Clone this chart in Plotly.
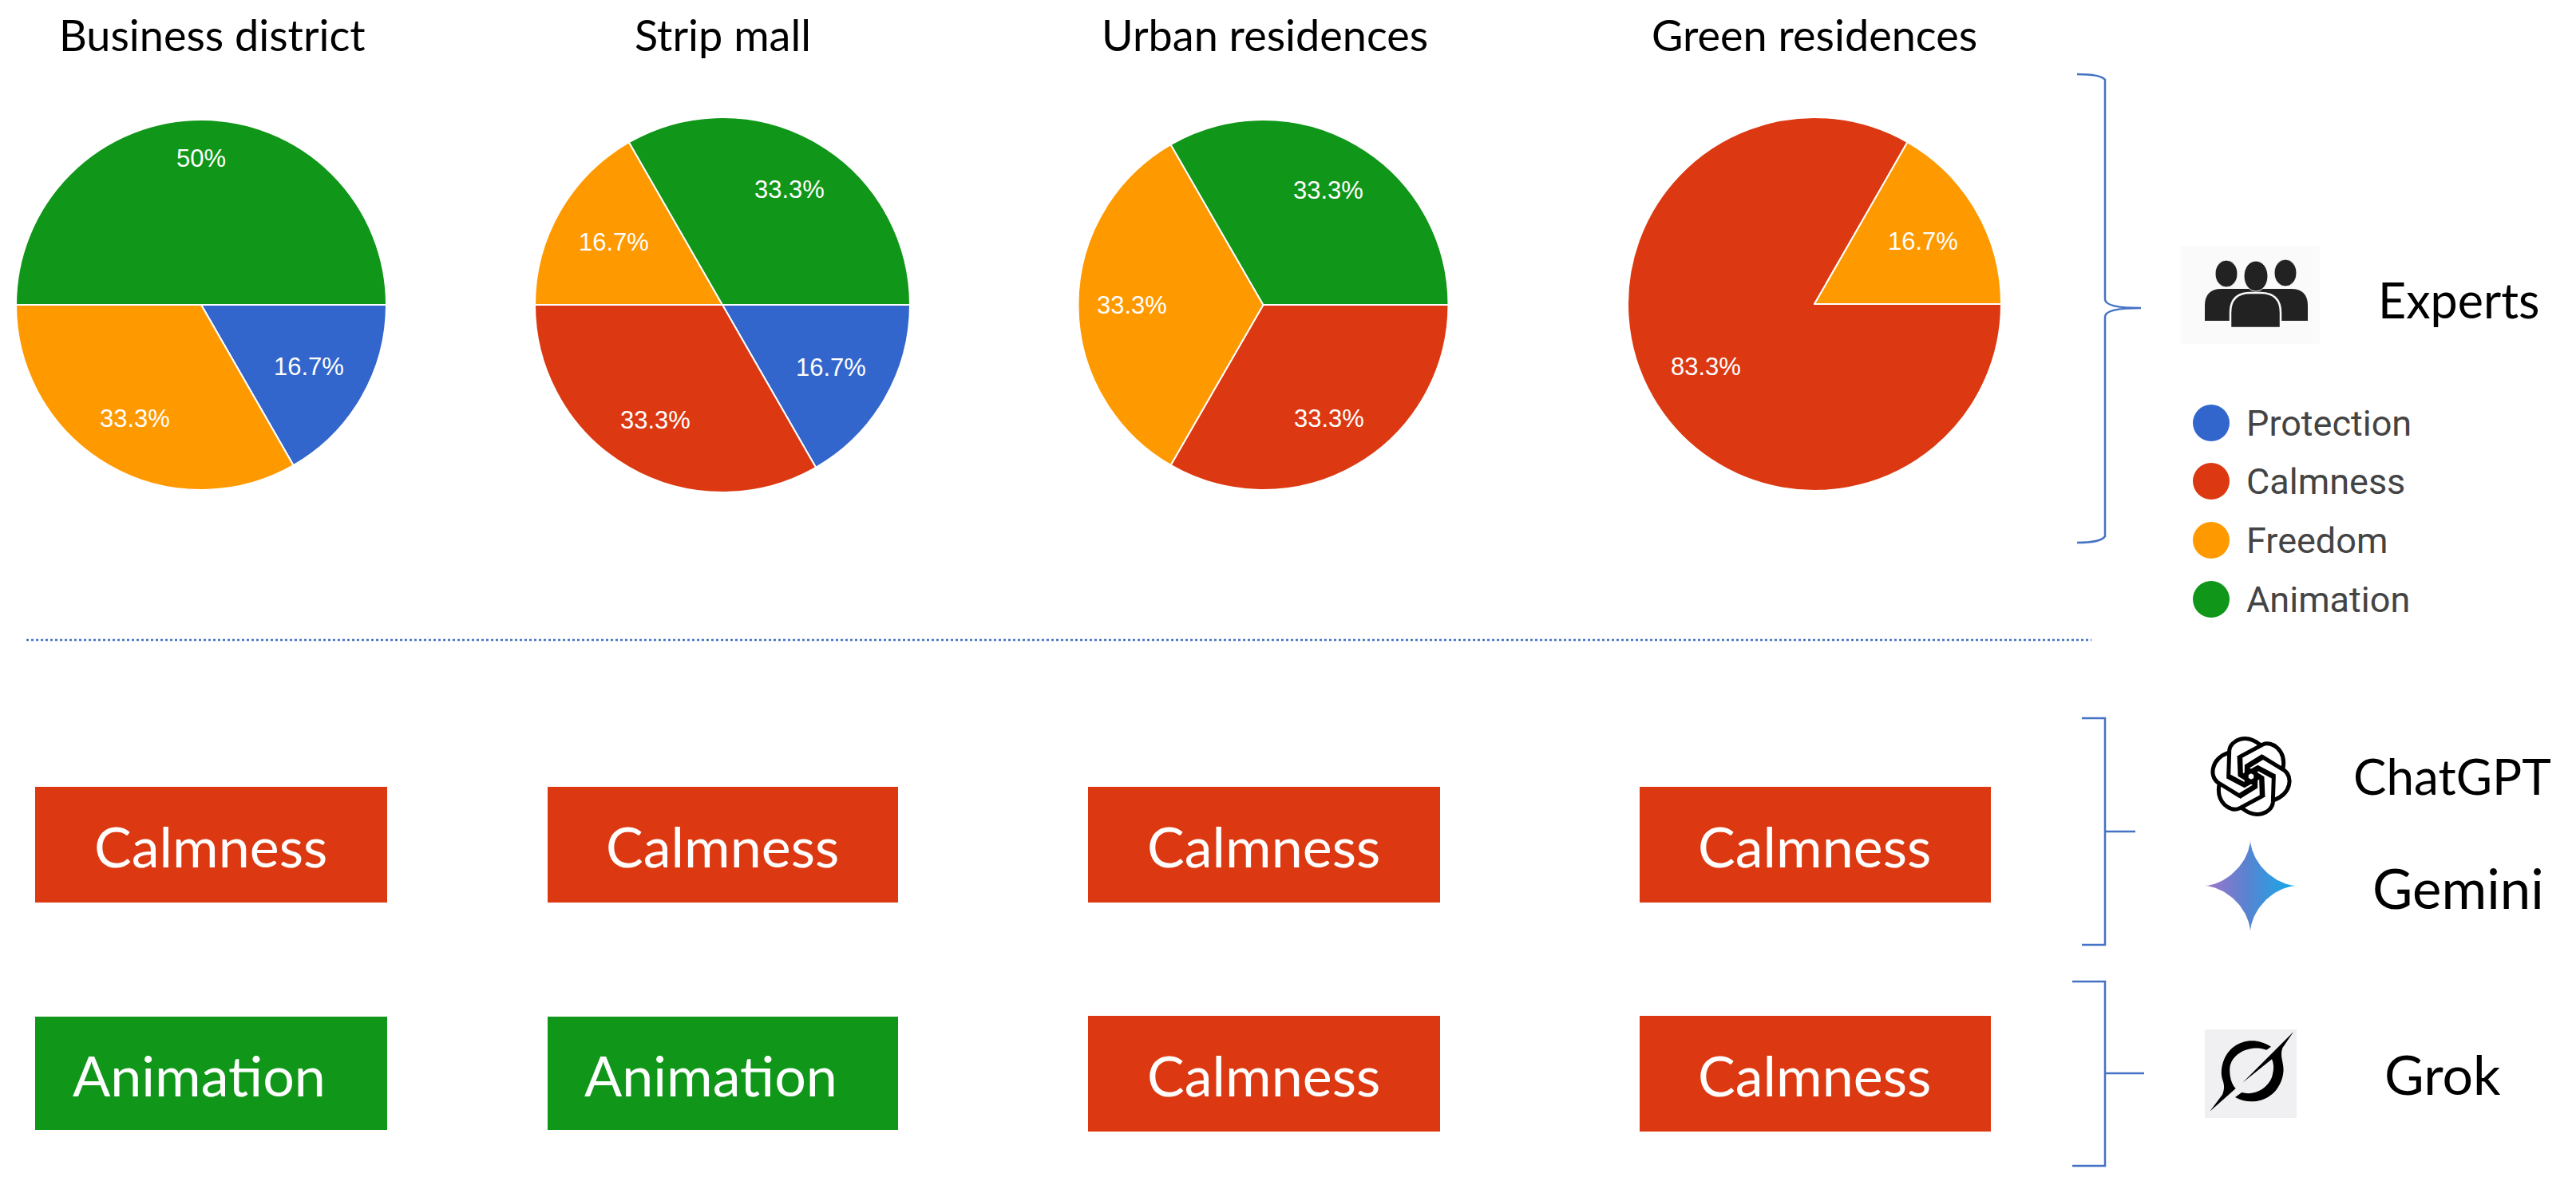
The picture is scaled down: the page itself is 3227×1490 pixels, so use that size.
import numpy as np
import plotly.graph_objects as go

W, H = 3227, 1490

# ---- data ----
scenes = ["Business district", "Strip mall", "Urban residences", "Green residences"]
emotions = ["Protection", "Calmness", "Freedom", "Animation"]
business_district = [16.7, 0, 33.3, 50]
strip_mall = [16.7, 33.3, 16.7, 33.3]
urban_residences = [0, 33.3, 33.3, 33.3]
green_residences = [0, 83.3, 16.7, 0]
chatgpt_gemini_choice = ["Calmness", "Calmness", "Calmness", "Calmness"]
grok_choice = ["Animation", "Animation", "Calmness", "Calmness"]
model_names = ["ChatGPT", "Gemini", "Grok"]

# ---- styles and layout (pixels of the 3227x1490 canvas) ----
colors = dict(zip(emotions, ["#3366CC", "#DC3912", "#FF9900", "#109618"]))
BLUE = "#4472C4"
TITLE_FONT = "Lato"
PIE_FONT = "Liberation Sans"
pie_cx = [252, 905, 1582.5, 2273]
pie_cy = [382, 382, 382, 381]
pie_r = [232, 235, 232, 234]
title_cx = [266, 905, 1584, 2273]
label_radius = {16.7: 0.67, 33.3: 0.71, 50: 0.79, 83.3: 0.67}
box_x = [(44, 485), (686, 1125), (1363, 1804), (2054, 2494)]
box_row1 = (986, 1131)
box_row2 = [(1274, 1416), (1274, 1416), (1273, 1418), (1273, 1418)]
anim_cx = [249, 890]

fig = go.Figure()
series = [business_district, strip_mall, urban_residences, green_residences]
annotations = []
shapes = []


def note(x, y, text, size, color="black", font=TITLE_FONT, anchor="center"):
    annotations.append(dict(x=x, y=y, xref="x", yref="y", text=text, showarrow=False,
                            xanchor=anchor, yanchor="middle",
                            font=dict(family=font, size=size, color=color)))


# ---- pies ----
for name, vals, cx, cy, r, tx in zip(scenes, series, pie_cx, pie_cy, pie_r, title_cx):
    fig.add_trace(go.Pie(
        labels=emotions, values=vals, sort=False, direction="clockwise", rotation=90,
        textinfo="none", hoverinfo="label+percent", showlegend=False,
        marker=dict(colors=[colors[e] for e in emotions], line=dict(color="white", width=2)),
        domain=dict(x=[(cx - r) / W, (cx + r) / W], y=[1 - (cy + r) / H, 1 - (cy - r) / H]),
        name=name))
    note(tx, 43, name, 54)
    start = 0.0
    for v in vals:
        if v > 0:
            mid = np.deg2rad((start + v / 2) * 3.6)
            k = label_radius[v] * r
            note(cx + k * np.cos(mid), cy + k * np.sin(mid), f"{v:g}%", 31, "white", PIE_FONT)
        start += v

# ---- separator ----
shapes.append(dict(type="line", x0=33, x1=2620, y0=802, y1=802,
                   line=dict(color=BLUE, width=2.5, dash="dot")))

# ---- model choice boxes ----
for i, (xr, choice) in enumerate(zip(box_x, chatgpt_gemini_choice)):
    shapes.append(dict(type="rect", x0=xr[0], x1=xr[1], y0=box_row1[0], y1=box_row1[1],
                       fillcolor=colors[choice], line=dict(width=0)))
    note(sum(xr) / 2 - 1, 1060, choice, 70, "white")
for i, (xr, yr, choice) in enumerate(zip(box_x, box_row2, grok_choice)):
    shapes.append(dict(type="rect", x0=xr[0], x1=xr[1], y0=yr[0], y1=yr[1],
                       fillcolor=colors[choice], line=dict(width=0)))
    tx = anim_cx[i] if choice == "Animation" else sum(xr) / 2 - 1
    note(tx, 1347, choice, 70, "white")

# ---- braces ----
bl = dict(color=BLUE, width=2.5)
shapes.append(dict(type="path", line=bl,
                   path="M2602,93 Q2632,93 2637,100 L2637,375 Q2637,386 2682,386 "
                        "Q2637,386 2637,397 L2637,672 Q2632,680 2602,680"))
shapes.append(dict(type="path", line=bl, path="M2608,900 L2637,900 L2637,1184 L2608,1184"))
shapes.append(dict(type="line", x0=2637, x1=2675, y0=1042, y1=1042, line=bl))
shapes.append(dict(type="path", line=bl, path="M2596,1230 L2637,1230 L2637,1461 L2596,1461"))
shapes.append(dict(type="line", x0=2637, x1=2686, y0=1345, y1=1345, line=bl))

# ---- experts icon ----
shapes.append(dict(type="rect", x0=2732, x1=2906, y0=308, y1=431, fillcolor="#FAFAFA", line=dict(width=0)))
ICON = "#222222"
shapes.append(dict(type="path", fillcolor=ICON, line=dict(width=0),
                   path="M2762,402 L2762,383 Q2762,362 2783,362 L2870,362 Q2891,362 2891,383 L2891,402 Z"))
shapes.append(dict(type="circle", x0=2775, x1=2803, y0=326, y1=360, fillcolor=ICON, line=dict(color="#FAFAFA", width=1)))
shapes.append(dict(type="circle", x0=2849, x1=2877, y0=325, y1=359, fillcolor=ICON, line=dict(color="#FAFAFA", width=1)))
shapes.append(dict(type="path", fillcolor=ICON, line=dict(color="#FAFAFA", width=2.5),
                   path="M2794,411 L2794,392 Q2794,367 2819,367 L2832,367 Q2857,367 2857,392 L2857,411 Z"))
shapes.append(dict(type="circle", x0=2811, x1=2841, y0=327, y1=365, fillcolor=ICON, line=dict(color="#FAFAFA", width=1)))
note(3080, 375, "Experts", 61)

# ---- legend ----
legend_y = [530, 603, 677, 751]
fig.add_trace(go.Scatter(x=[2770] * 4, y=legend_y, mode="markers", showlegend=False, hoverinfo="skip",
                         marker=dict(size=46, color=[colors[e] for e in emotions], line=dict(width=0))))
for e, y in zip(emotions, legend_y):
    note(2812, y, e, 45, "#444444", "Roboto", "left")


# ---- ChatGPT knot ----
def rot(px, py, deg):
    a = np.deg2rad(deg)
    return 2820 + (px * np.cos(a) - py * np.sin(a)) / 3, 973 + (px * np.sin(a) + py * np.cos(a)) / 3


for deg in range(0, 360, 60):
    pts = [(-20, 32), (-85, -3), (-82, -98), (-78, -135), (-20, -165), (35, -118)]
    inner = [(20, 32), (-42, -5), (-45, -78)]
    p = [rot(*q, deg) for q in pts]
    q = [rot(*c, deg) for c in inner]
    path = (f"M{p[0][0]:.1f},{p[0][1]:.1f} L{p[1][0]:.1f},{p[1][1]:.1f} L{p[2][0]:.1f},{p[2][1]:.1f} "
            f"C{p[3][0]:.1f},{p[3][1]:.1f} {p[4][0]:.1f},{p[4][1]:.1f} {p[5][0]:.1f},{p[5][1]:.1f}")
    path2 = f"M{q[0][0]:.1f},{q[0][1]:.1f} L{q[1][0]:.1f},{q[1][1]:.1f} L{q[2][0]:.1f},{q[2][1]:.1f}"
    shapes.append(dict(type="path", path=path, line=dict(color="black", width=5)))
    shapes.append(dict(type="path", path=path2, line=dict(color="black", width=5)))
note(3072, 972, model_names[0], 62)

# ---- Gemini star ----
t = np.linspace(0, 2 * np.pi, 241)
p_star = 0.62
sx = 2819 + 57 * np.sign(np.cos(t)) * np.abs(np.cos(t)) ** (2 / p_star)
sy = 1110 + 57 * np.sign(np.sin(t)) * np.abs(np.sin(t)) ** (2 / p_star)
fig.add_trace(go.Scatter(x=sx, y=sy, mode="lines", fill="toself", line=dict(width=0), showlegend=False,
                         hoverinfo="skip",
                         fillgradient=dict(type="horizontal",
                                           colorscale=[[0, "#A374C8"], [0.45, "#5A82D0"], [1, "#12ABEB"]])))
note(3079, 1112, model_names[1], 69)

# ---- Grok icon ----
def gp(cmds):
    out = []
    for c in cmds:
        if isinstance(c, str):
            out.append(c)
        else:
            out.append(f"{2740 + c[0] / 3:.1f},{1270 + c[1] / 3:.1f}")
    return " ".join(out)


shapes.append(dict(type="rect", x0=2762, x1=2877, y0=1290, y1=1401, fillcolor="#F0F0F2", line=dict(width=0)))
shapes.append(dict(type="path", fillcolor="black", line=dict(width=0), path=gp([
    "M", (315, 125), "C", (270, 95), (215, 95), (175, 125), "C", (135, 155), (120, 215), (133, 250),
    "C", (140, 270), (140, 285), (132, 305), "L", (85, 368), "L", (182, 282),
    "C", (165, 265), (158, 235), (160, 205), "C", (165, 155), (230, 115), (298, 137), "Z"])))
shapes.append(dict(type="path", fillcolor="black", line=dict(width=0), path=gp([
    "M", (400, 68), "L", (208, 260), "L", (318, 172), "C", (328, 195), (325, 215), (318, 240),
    "C", (300, 285), (250, 310), (205, 297), "L", (180, 315), "C", (240, 350), (340, 330), (360, 230),
    "C", (368, 190), (345, 165), (358, 130), "Z"])))
note(3060, 1345, model_names[2], 68)

fig.update_layout(
    width=W, height=H, margin=dict(l=0, r=0, t=0, b=0),
    paper_bgcolor="white", plot_bgcolor="white", showlegend=False,
    xaxis=dict(range=[0, W], visible=False, fixedrange=True),
    yaxis=dict(range=[H, 0], visible=False, fixedrange=True),
    annotations=annotations, shapes=shapes,
)
fig.write_html("out.html", config=dict(displayModeBar=False),
               post_script="document.body.style.margin='0';document.body.style.overflow='hidden';"
                           "document.body.style.fontVariantLigatures='none';")
